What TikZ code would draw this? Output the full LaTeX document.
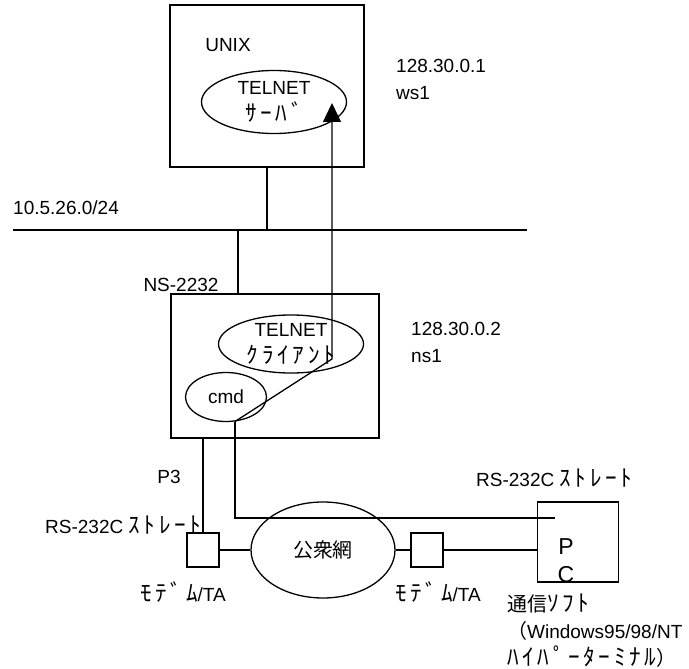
\documentclass[tikz,border=0pt]{standalone}
\usepackage{fontspec}
\setmainfont{Liberation Sans}
\newfontfamily\jp[Scale=1.22,LetterSpace=16]{Noto Sans CJK JP}
\newfontfamily\jpk[Scale=1.05]{Noto Sans CJK JP}
\usepackage{tikz}
\usetikzlibrary{arrows.meta, shapes.geometric}
\newcommand\lbfont{\fontsize{19}{27}\selectfont}
\tikzset{
  hostbox/.style={draw, line width=1.3pt, inner sep=0pt},
  procell/.style={draw, ellipse, line width=1.3pt, align=center, inner sep=0pt, font=\lbfont},
  modembox/.style={draw, line width=1.3pt, minimum width=32, minimum height=34, inner sep=0pt},
  lbl/.style={font=\lbfont, inner sep=0pt, align=left},
  wire/.style={line width=1.3pt},
  flowarrow/.style={wire, -{Triangle[length=19pt, width=18pt]}}
}
\begin{document}
\begin{tikzpicture}[x=1pt, y=-1pt]
\useasboundingbox (0,0) rectangle (689,669);

% Hosts
\node[hostbox, minimum width=194, minimum height=162] (unix) at (267,86) {};
\node[lbl] (unixlbl) at (228,45) {UNIX};
\node[procell, minimum width=145, minimum height=63] (server) at (274,102) {TELNET\\{\jp ｻｰﾊﾞ}};
\node[lbl, anchor=west] (wsaddr) at (396,79) {128.30.0.1\\ws1};

\node[hostbox, minimum width=208, minimum height=144] (ns) at (275,366) {};
\node[lbl] (nslbl) at (181,285) {NS-2232};
\node[procell, minimum width=145, minimum height=58] (client) at (291,344) {TELNET\\{\jp ｸﾗｲｱﾝﾄ}};
\node[procell, minimum width=81, minimum height=49] (cmd) at (226,397) {cmd};
\node[lbl, anchor=west] (nsaddr) at (411,342) {128.30.0.2\\ns1};

% LAN
\coordinate (lanL) at (13,230);
\coordinate (lanR) at (527,230);
\node[lbl, anchor=west] (lanlbl) at (13,208) {10.5.26.0/24};
\draw[wire] (lanL) -- (lanR);
\draw[wire] (unix.south) -- (unix.south |- lanL);
\draw[wire] ([xshift=-37pt]ns.north) -- ([xshift=-37pt]ns.north |- lanL);

% Dial-up side
\node[modembox] (modemA) at (203,550) {};
\node[modembox] (modemB) at (427,550) {};
\node[procell, minimum width=144, minimum height=96] (pstn) at (323,550) {\raisebox{-8pt}{\jpk 公衆網}};
\node[hostbox, minimum width=81, minimum height=80] (pc) at (578,542) {};
\node[lbl, align=center, font=\fontsize{23}{28}\selectfont] (pclbl) at (566,561) {P\\C};

\node[lbl] (p3) at (169,477) {P3};
\node[lbl, anchor=west] (rsA) at (45,525) {RS-232C {\jp ｽﾄﾚｰﾄ}};
\node[lbl, anchor=west] (rsB) at (476,478) {RS-232C {\jp ｽﾄﾚｰﾄ}};
\node[lbl] (modemAlbl) at (183,592) {{\jp ﾓﾃﾞﾑ}/TA};
\node[lbl] (modemBlbl) at (438,592) {{\jp ﾓﾃﾞﾑ}/TA};
\node[lbl, anchor=west] (softlbl) at (507,631) {{\jpk 通信}{\jp ｿﾌﾄ}\\{\jpk （}Windows95/98/NT\\{\jp ﾊｲﾊﾟｰﾀｰﾐﾅﾙ}{\jpk ）}};

\draw[wire] (modemA.north) -- (modemA.north |- ns.south);
\draw[wire] (modemA) -- (pstn);
\draw[wire] (pstn) -- (modemB);
\draw[wire] (modemB.east) -- (modemB.east -| pc.west);

% Session path
\coordinate (relay) at (332,359);
\coordinate (tip) at (332,103);
\coordinate (pcport) at (555,518);
\draw[flowarrow] (cmd.-70) -- (relay) -- (tip);
\draw[wire] (cmd.-70) |- (pcport);

\end{tikzpicture}
\end{document}
